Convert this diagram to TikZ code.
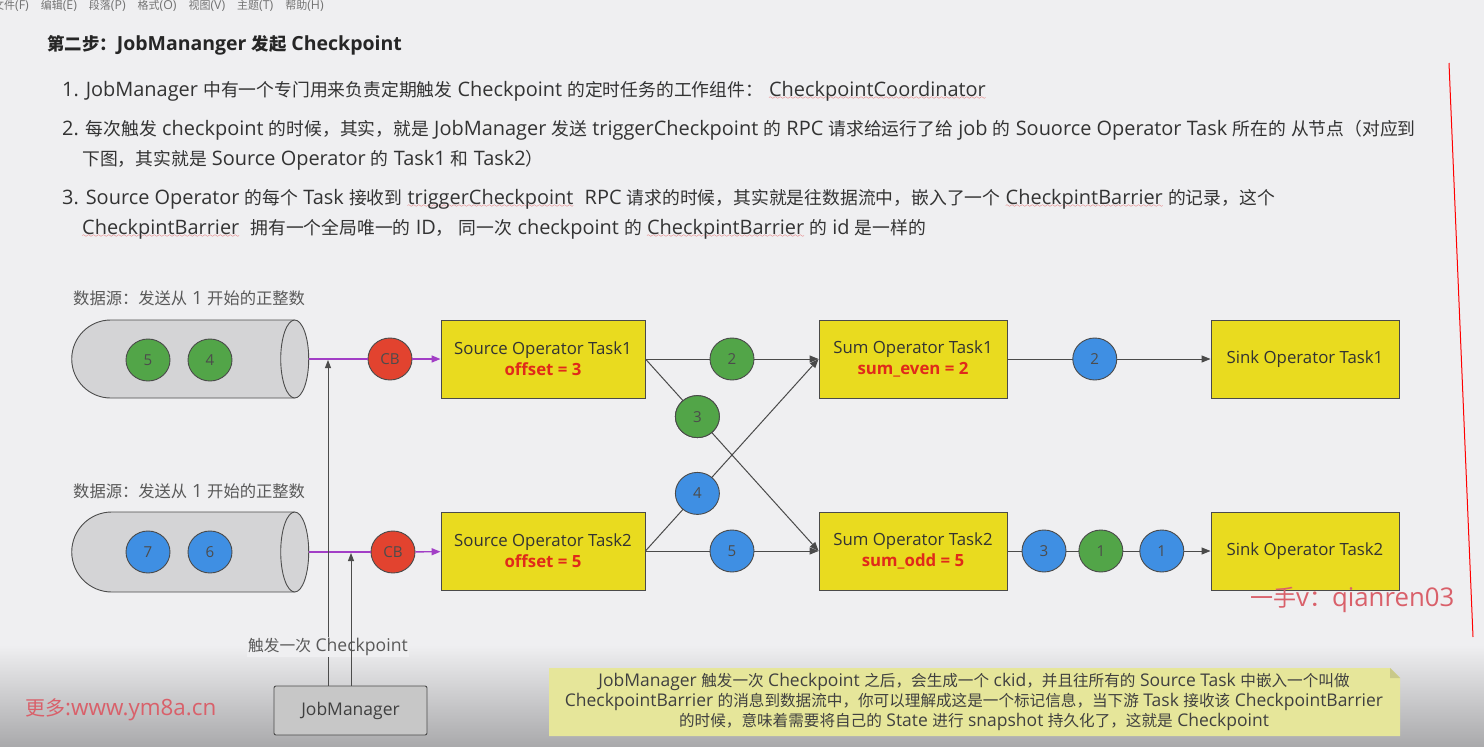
\documentclass[tikz,border=0pt]{standalone}
\usepackage{fontspec}
\setmainfont{Open Sans}[Scale=1.12]
\newfontfamily\latinfont{Open Sans}[Scale=1.12]
\newfontfamily\cjkfont{Noto Sans CJK SC}
\usetikzlibrary{positioning,arrows.meta,shapes.geometric,shapes.misc,backgrounds}

% switch to the CJK family for Han characters and full-width punctuation
\XeTeXinterchartokenstate=1
\newXeTeXintercharclass\cjkclass
\newcount\cjkcode
\newcommand\markcjk[2]{\cjkcode=#1\relax
  \loop\XeTeXcharclass\cjkcode=\cjkclass\advance\cjkcode by 1\relax
  \ifnum\cjkcode<#2\repeat}
\markcjk{"4E00}{"A000}
\markcjk{"3000}{"3040}
\markcjk{"FF00}{"FFF0}
\XeTeXinterchartoks 0 \cjkclass = {\cjkfont}
\XeTeXinterchartoks 4095 \cjkclass = {\cjkfont}
\XeTeXinterchartoks \cjkclass 0 = {\latinfont}
\XeTeXinterchartoks \cjkclass 4095 = {\latinfont}

\definecolor{pagebg}{HTML}{EFEFF1}
\definecolor{shadegray}{HTML}{A9A9AB}
\definecolor{taskyellow}{HTML}{E9DB1F}
\definecolor{msggreen}{HTML}{52A548}
\definecolor{msgblue}{HTML}{3F8FE3}
\definecolor{cbred}{HTML}{E2432F}
\definecolor{pipegray}{HTML}{D4D4D6}
\definecolor{edgegray}{HTML}{4A4A4A}
\definecolor{barrierpurple}{HTML}{A23EC6}
\definecolor{notebg}{HTML}{E6E69A}
\definecolor{notefold}{HTML}{C9C98A}
\definecolor{wmred}{HTML}{D9606A}
\definecolor{spellred}{HTML}{E03030}
\definecolor{valred}{HTML}{E02A1A}

% red wavy spell-check underline
\font\sixly=lasy6
\newsavebox\spellbox
\newcommand\spellmark[1]{\sbox\spellbox{#1}%
  \rlap{\lower3.5pt\hbox to \wd\spellbox{\color{spellred}\xleaders\hbox{\sixly\char58}\hfil}}%
  \usebox\spellbox}

\begin{document}
\begin{tikzpicture}[
  x=1pt, y=-1pt,
  >={Triangle[length=9pt,width=7pt]},
  bodytext/.style={anchor=west, inner sep=0pt, text=black!80, font=\fontsize{17.8}{21}\selectfont},
  graylabel/.style={anchor=west, inner sep=0pt, text=black!65, font=\fontsize{16.3}{19}\selectfont},
  task/.style={
    draw=edgegray, fill=taskyellow, align=center, line width=0.9pt,
    minimum width=188pt, minimum height=78pt, inner sep=2pt,
    text=black!80, font=\fontsize{15}{21}\selectfont
  },
  srctask/.style={task, minimum width=204pt},
  msg/.style={ellipse, draw=edgegray, line width=0.9pt, minimum width=44pt,
    minimum height=42pt, inner sep=0pt, text=black!70, font=\fontsize{13.5}{16}\selectfont},
  even/.style={msg, fill=msggreen},
  odd/.style={msg, fill=msgblue},
  cb/.style={msg, fill=cbred},
  pipe/.style={draw=black!70, fill=pipegray, line width=0.9pt},
  flow/.style={draw=edgegray, line width=1pt, ->},
  barrier/.style={draw=barrierpurple, line width=1.4pt},
  trigger/.style={draw=black!70, line width=0.9pt, ->, >={Triangle[length=8pt,width=6pt]}},
  watermark/.style={anchor=west, inner sep=0pt, text=wmred}
]

\useasboundingbox (0,0) rectangle (1484,747);
\begin{scope}[on background layer]
  \fill[pagebg] (0,0) rectangle (1484,747);
  \shade[top color=pagebg, bottom color=shadegray] (0,645) rectangle (1484,747);
\end{scope}

% ---------- Menu bar and heading ----------
\node[anchor=west, inner sep=0pt, text=black!55, font=\fontsize{11}{13}\selectfont] (menu) at (-7,6)
  {文件(F)\hspace{12pt}编辑(E)\hspace{12pt}段落(P)\hspace{12pt}格式(O)\hspace{12pt}视图(V)\hspace{12pt}主题(T)\hspace{12pt}帮助(H)};
\node[anchor=west, inner sep=0pt, text=black!85, font=\fontsize{17.4}{20}\selectfont\bfseries] (title) at (47,45)
  {第二步：JobMananger 发起 Checkpoint};

% ---------- Numbered items ----------
\node[bodytext] (item1) at (62,91)
  {1. JobManager 中有一个专门用来负责定期触发 Checkpoint 的定时任务的工作组件：\hspace{6pt}\spellmark{CheckpointCoordinator}};
\node[bodytext] (item2a) at (62,130)
  {2. 每次触发 checkpoint 的时候，其实，就是 JobManager 发送 triggerCheckpoint 的 RPC 请求给运行了给 job 的 Souorce Operator Task 所在的 从节点（对应到};
\node[bodytext] (item2b) at (82,160)
  {下图，其实就是 Source Operator 的 Task1 和 Task2）};
\node[bodytext] (item3a) at (62,199)
  {3. Source Operator 的每个 Task 接收到 \spellmark{triggerCheckpoint}\hspace{6pt} RPC 请求的时候，其实就是往数据流中，嵌入了一个 \spellmark{CheckpintBarrier} 的记录，这个};
\node[bodytext] (item3b) at (82,229)
  {\spellmark{CheckpintBarrier}\hspace{6pt} 拥有一个全局唯一的 ID， 同一次 checkpoint 的 \spellmark{CheckpintBarrier} 的 id 是一样的};

% ---------- Sources ----------
\node[graylabel] (lblA) at (73,298) {数据源：发送从 1 开始的正整数};
\node[graylabel] (lblB) at (73,491) {数据源：发送从 1 开始的正整数};

\node[pipe, rounded rectangle, rounded rectangle east arc=none,
      minimum width=230pt, minimum height=78pt] (pipeA) at (183,359) {};
\draw[pipe] (pipeA.east) ellipse[x radius=14, y radius=39];
\node[pipe, rounded rectangle, rounded rectangle east arc=none,
      minimum width=230pt, minimum height=80pt] (pipeB) at (183,552) {};
\draw[pipe] (pipeB.east) ellipse[x radius=14, y radius=40];

\node[even] (a5) at (148,360) {5};
\node[even] (a4) at (210,360) {4};
\node[odd]  (b7) at (148,552) {7};
\node[odd]  (b6) at (210,552) {6};

\coordinate (outA) at ([xshift=14pt]pipeA.east);
\coordinate (outB) at ([xshift=14pt]pipeB.east);

% ---------- Operator tasks ----------
\node[srctask] (srcA) at (543,359) {Source Operator Task1\\[0pt]{\bfseries\color{valred}offset = 3}};
\node[srctask] (srcB) at (543,551) {Source Operator Task2\\[0pt]{\bfseries\color{valred}offset = 5}};
\node[task] (sumA) at (913,359) {Sum Operator Task1\\[0pt]{\bfseries\color{valred}sum\_even = 2}};
\node[task] (sumB) at (913,551) {Sum Operator Task2\\[0pt]{\bfseries\color{valred}sum\_odd = 5}};
\node[task] (sinkA) at (1305,359) {Sink Operator Task1};
\node[task] (sinkB) at (1305,551) {Sink Operator Task2};

% ---------- Barriers ----------
\node[cb] (cbA) at (390,359) {CB};
\node[cb] (cbB) at (393,552) {CB};
\draw[barrier] (outA) -- (cbA);
\draw[barrier, ->] (cbA) -- (srcA);
\draw[barrier] (outB) -- (cbB);
\draw[barrier, ->] (cbB) -- (srcB);

% ---------- Record flows ----------
\draw[flow] (srcA.east) -- node[even, pos=0.5] (mA2) {2} (sumA.west);
\draw[flow] (srcA.east) -- node[even, pos=0.3] (mA3) {3} (sumB.west);
\draw[flow] (srcB.east) -- node[odd, pos=0.3] (mB4) {4} (sumA.west);
\draw[flow] (srcB.east) -- node[odd, pos=0.5] (mB5) {5} (sumB.west);
\node[even] at (mA3) {3};
\draw[flow] (sumA) -- node[odd, pos=0.43] (oA2) {2} (sinkA);
\draw[flow] (sumB) -- node[odd, pos=0.18] (oB3) {3}
                     node[even, pos=0.46] (oB1) {1}
                     node[odd, pos=0.76] (oB1b) {1} (sinkB);

% ---------- JobManager trigger ----------
\node[draw=black!70, fill=black!22, rounded corners=2pt, line width=0.9pt,
      minimum width=153pt, minimum height=49pt, text=black!75,
      font=\fontsize{15.6}{18}\selectfont] (jm) at (350.5,710.5) {JobManager};
\coordinate (hitA) at (328,360);
\coordinate (hitB) at (351,553);
\draw[trigger] (jm.north -| hitA) -- (hitA);
\node[fill=pagebg, inner sep=1pt, text=black!65, font=\fontsize{15.7}{18}\selectfont] (trig) at (328,647) {触发一次 Checkpoint};
\draw[trigger] (jm.north -| hitB) -- (hitB);

% ---------- Note ----------
\node[align=center, text=black!75, font=\fontsize{15.6}{20}\selectfont, inner sep=0pt] (note) at (974,702)
  {JobManager 触发一次 Checkpoint 之后，会生成一个 ckid，并且往所有的 Source Task 中嵌入一个叫做\\
   CheckpointBarrier 的消息到数据流中，你可以理解成这是一个标记信息，当下游 Task 接收该 CheckpointBarrier\\
   的时候，意味着需要将自己的 State 进行 snapshot 持久化了，这就是 Checkpoint};
\begin{scope}[on background layer]
  \fill[notebg] (549,668) -- (1390,668) -- (1400,678) -- (1400,736) -- (549,736) -- cycle;
  \fill[notefold] (1390,668) -- (1390,678) -- (1400,678) -- cycle;
\end{scope}

% ---------- Overlays ----------
\node[watermark, font=\fontsize{20}{24}\selectfont] (wmA) at (25,710) {更多:www.ym8a.cn};
\node[watermark, font=\fontsize{23}{28}\selectfont] (wmB) at (1250,600) {一手v：qianren03};
\draw[red, line width=1pt] (1449,63) -- (1473,637);

\end{tikzpicture}
\end{document}
